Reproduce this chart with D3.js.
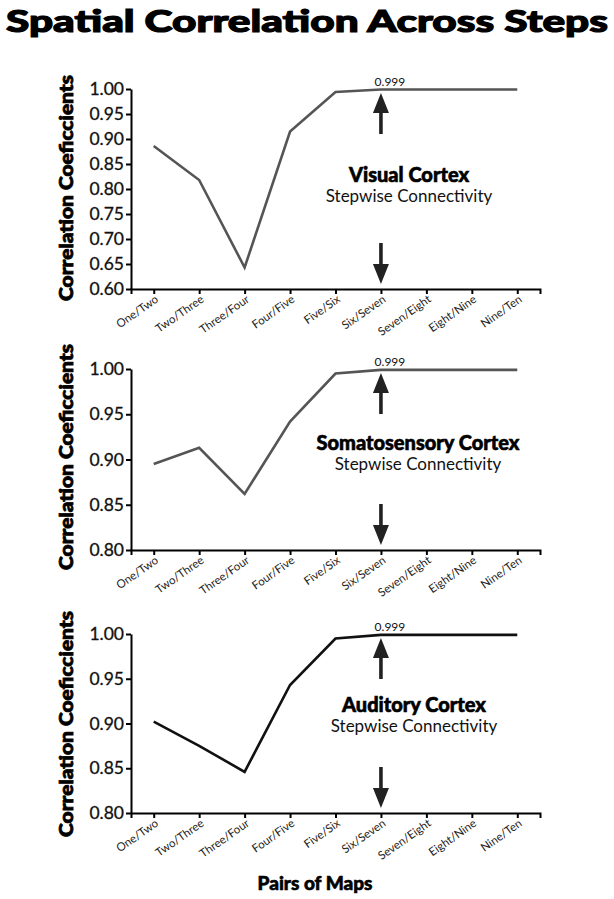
<!DOCTYPE html>
<html>
<head>
<meta charset="utf-8">
<script src="https://cdn.jsdelivr.net/npm/d3@7"></script>
<style>
  body { margin: 0; background: #fff; }
  text { font-family: Lato, "Open Sans", sans-serif; }
</style>
</head>
<body>
<div id="chartContainer"></div>
<script>
var pairs = ["One/Two", "Two/Three", "Three/Four", "Four/Five", "Five/Six",
  "Six/Seven", "Seven/Eight", "Eight/Nine", "Nine/Ten"];

var visualValues = [0.886, 0.818, 0.643, 0.915, 0.994, 0.999, 0.999, 0.999, 0.999];
var somatoValues = [0.895, 0.913, 0.862, 0.942, 0.995, 0.999, 0.999, 0.999, 0.999];
var auditoryValues = [0.902, 0.875, 0.846, 0.943, 0.995, 0.999, 0.999, 0.999, 0.999];

var visualTicks = [0.60, 0.65, 0.70, 0.75, 0.80, 0.85, 0.90, 0.95, 1.00];
var otherTicks = [0.80, 0.85, 0.90, 0.95, 1.00];

var regionNames = ["Visual Cortex", "Somatosensory Cortex", "Auditory Cortex"];
var peakLabel = "0.999";

var width = 614, height = 899;
var plot = { left: 131, right: 540 };

var panels = [
  { name: regionNames[0], values: visualValues, ticks: visualTicks, top: 89, bottom: 289,
    color: "#555", labelY: 188, nameY: 182, textX: 409 },
  { name: regionNames[1], values: somatoValues, ticks: otherTicks, top: 369, bottom: 550,
    color: "#555", labelY: 457, nameY: 450, textX: 418 },
  { name: regionNames[2], values: auditoryValues, ticks: otherTicks, top: 634, bottom: 813,
    color: "#111", labelY: 724, nameY: 712, textX: 414 }
];

var svg = d3.select("#chartContainer")
  .append("svg")
  .attr("width", width)
  .attr("height", height);

// Title
svg.append("text")
  .attr("x", 6)
  .attr("y", 32)
  .attr("font-size", 31)
  .attr("font-weight", 900)
  .attr("stroke", "#000")
  .attr("stroke-width", 1.2)
  .attr("textLength", 602)
  .attr("lengthAdjust", "spacingAndGlyphs")
  .text("Spatial Correlation Across Steps");

var xScale = d3.scalePoint().domain(pairs).range([plot.left, plot.right]).padding(0.5);

panels.forEach(function(p) {
  var yScale = d3.scaleLinear()
    .domain([p.ticks[0], 1.0])
    .range([p.bottom, p.top]);

  var g = svg.append("g");

  var xAxis = d3.axisBottom(xScale).tickSize(5).tickFormat("");
  var yAxis = d3.axisLeft(yScale).tickValues(p.ticks).tickSize(5).tickSizeOuter(0)
    .tickPadding(2).tickFormat(d3.format(".2f"));

  var gx = g.append("g")
    .attr("transform", "translate(0," + p.bottom + ")")
    .call(xAxis);
  gx.selectAll("path, line").attr("stroke", "#000").attr("stroke-width", 2);

  gx.selectAll(".tick")
    .append("text")
    .attr("fill", "#222")
    .attr("font-size", 11.5)
    .attr("text-anchor", "end")
    .attr("transform", "translate(5,12) rotate(-35)")
    .text(function(d) { return d; });

  var gy = g.append("g")
    .attr("transform", "translate(" + plot.left + ",0)")
    .call(yAxis);
  gy.selectAll("path, line").attr("stroke", "#000").attr("stroke-width", 2);
  gy.selectAll(".tick text")
    .attr("font-size", 17.5)
    .attr("fill", "#111")
    .attr("stroke", "#111")
    .attr("stroke-width", 0.3)
    .attr("font-family", "Lato, sans-serif");

  // y label
  g.append("text")
    .attr("transform", "translate(73," + p.labelY + ") rotate(-90)")
    .attr("text-anchor", "middle")
    .attr("font-size", 19)
    .attr("font-weight", 900)
    .attr("stroke", "#000")
    .attr("stroke-width", 0.8)
    .attr("textLength", 226)
    .attr("lengthAdjust", "spacingAndGlyphs")
    .text("Correlation Coeficcients");

  // the line
  var line = d3.line()
    .x(function(d, i) { return xScale(pairs[i]); })
    .y(function(d) { return yScale(d); });

  g.append("path")
    .attr("d", line(p.values))
    .attr("fill", "none")
    .attr("stroke", p.color)
    .attr("stroke-width", 2.6)
    .attr("stroke-linejoin", "miter");

  // peak annotation
  var ax = xScale("Six/Seven");
  g.append("text")
    .attr("x", ax + 9)
    .attr("y", yScale(p.values[5]) - 4)
    .attr("text-anchor", "middle")
    .attr("font-size", 12)
    .attr("fill", "#111")
    .text(peakLabel);

  // up arrow
  g.append("path")
    .attr("d", "M" + ax + "," + (p.top + 4) +
      " L" + (ax + 8) + "," + (p.top + 24) +
      " L" + (ax + 1.8) + "," + (p.top + 24) +
      " L" + (ax + 1.8) + "," + (p.top + 45) +
      " L" + (ax - 1.8) + "," + (p.top + 45) +
      " L" + (ax - 1.8) + "," + (p.top + 24) +
      " L" + (ax - 8) + "," + (p.top + 24) + " Z")
    .attr("fill", "#222");

  // down arrow
  g.append("path")
    .attr("d", "M" + ax + "," + (p.bottom - 5) +
      " L" + (ax + 8) + "," + (p.bottom - 25) +
      " L" + (ax + 1.8) + "," + (p.bottom - 25) +
      " L" + (ax + 1.8) + "," + (p.bottom - 46) +
      " L" + (ax - 1.8) + "," + (p.bottom - 46) +
      " L" + (ax - 1.8) + "," + (p.bottom - 25) +
      " L" + (ax - 8) + "," + (p.bottom - 25) + " Z")
    .attr("fill", "#222");

  // region labels
  g.append("text")
    .attr("x", p.textX)
    .attr("y", p.nameY)
    .attr("text-anchor", "middle")
    .attr("font-size", 20)
    .attr("font-weight", 900)
    .attr("stroke", "#000")
    .attr("stroke-width", 0.6)
    .text(p.name);

  g.append("text")
    .attr("x", p.textX)
    .attr("y", p.nameY + 20)
    .attr("text-anchor", "middle")
    .attr("font-size", 17)
    .attr("fill", "#111")
    .text("Stepwise Connectivity");
});

// x label
svg.append("text")
  .attr("x", 315)
  .attr("y", 890)
  .attr("text-anchor", "middle")
  .attr("font-size", 19)
  .attr("font-weight", 900)
  .attr("stroke", "#000")
  .attr("stroke-width", 0.6)
  .text("Pairs of Maps");
</script>
</body>
</html>
